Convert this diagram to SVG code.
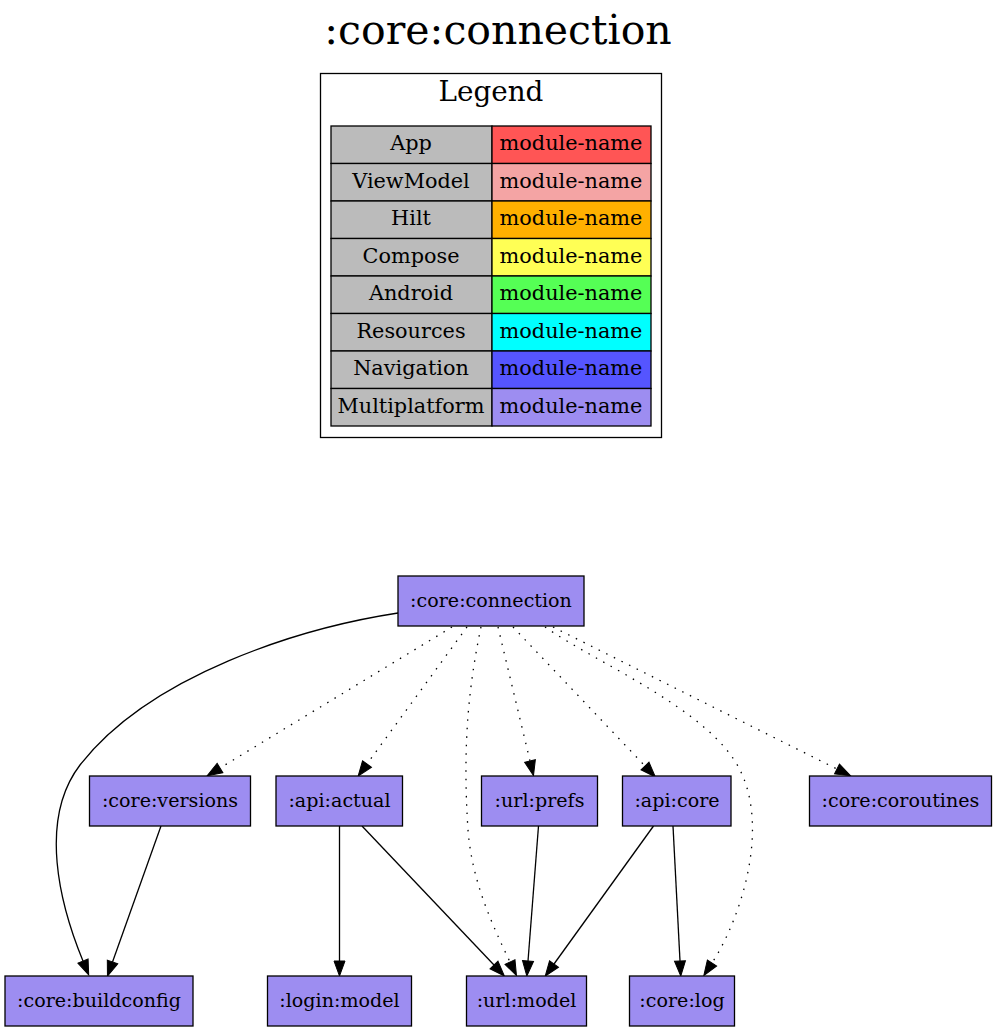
<svg xmlns="http://www.w3.org/2000/svg" width="997" height="1032" viewBox="0 0 997 1032">
<defs>
<style>
text{font-family:"DejaVu Serif","Liberation Serif",serif;fill:#000;text-anchor:middle}
.title{font-size:41px}
.leg{font-size:27.8px}
.cell{font-size:20.8px}
.node rect{fill:#9d8df1;stroke:#000;stroke-width:1.3}
.node text{font-size:19.1px}
.lbl{fill:#bbbbbb;stroke:#000;stroke-width:1.3}
.e{fill:none;stroke:#000;stroke-width:1.3}
.d{stroke-dasharray:1.5,7}
</style>
<marker id="ah" markerUnits="userSpaceOnUse" markerWidth="16" markerHeight="12" refX="0" refY="5.5" orient="auto" overflow="visible">
<path d="M0,0 L15,5.5 L0,11 z" fill="#000" stroke="#000" stroke-width="1"/>
</marker>
</defs>
<rect width="997" height="1032" fill="#fff"/>
<text class="title" x="498" y="44">:core:connection</text>
<g id="legend">
<rect x="320.5" y="73.5" width="341" height="364" fill="#fff" stroke="#000" stroke-width="1.3"/>
<text class="leg" x="491" y="101">Legend</text>
<g class="cell">
<rect class="lbl" x="331" y="126" width="161" height="37.5"/><rect x="492" y="126" width="159" height="37.5" fill="#ff5555" stroke="#000" stroke-width="1.3"/>
<text class="cell" x="411" y="150">App</text><text class="cell" x="571" y="150">module-name</text>
<rect class="lbl" x="331" y="163.5" width="161" height="37.5"/><rect x="492" y="163.5" width="159" height="37.5" fill="#f4a4a4" stroke="#000" stroke-width="1.3"/>
<text class="cell" x="411" y="187.5">ViewModel</text><text class="cell" x="571" y="187.5">module-name</text>
<rect class="lbl" x="331" y="201" width="161" height="37.5"/><rect x="492" y="201" width="159" height="37.5" fill="#ffb000" stroke="#000" stroke-width="1.3"/>
<text class="cell" x="411" y="225">Hilt</text><text class="cell" x="571" y="225">module-name</text>
<rect class="lbl" x="331" y="238.5" width="161" height="37.5"/><rect x="492" y="238.5" width="159" height="37.5" fill="#ffff55" stroke="#000" stroke-width="1.3"/>
<text class="cell" x="411" y="262.5">Compose</text><text class="cell" x="571" y="262.5">module-name</text>
<rect class="lbl" x="331" y="276" width="161" height="37.5"/><rect x="492" y="276" width="159" height="37.5" fill="#55ff55" stroke="#000" stroke-width="1.3"/>
<text class="cell" x="411" y="300">Android</text><text class="cell" x="571" y="300">module-name</text>
<rect class="lbl" x="331" y="313.5" width="161" height="37.5"/><rect x="492" y="313.5" width="159" height="37.5" fill="#00ffff" stroke="#000" stroke-width="1.3"/>
<text class="cell" x="411" y="337.5">Resources</text><text class="cell" x="571" y="337.5">module-name</text>
<rect class="lbl" x="331" y="351" width="161" height="37.5"/><rect x="492" y="351" width="159" height="37.5" fill="#5555ff" stroke="#000" stroke-width="1.3"/>
<text class="cell" x="411" y="375">Navigation</text><text class="cell" x="571" y="375">module-name</text>
<rect class="lbl" x="331" y="388.5" width="161" height="37.5"/><rect x="492" y="388.5" width="159" height="37.5" fill="#9d8df1" stroke="#000" stroke-width="1.3"/>
<text class="cell" x="411" y="412.5">Multiplatform</text><text class="cell" x="571" y="412.5">module-name</text>
</g>
</g>
<g id="edges">
<path class="e" d="M398,613 C300,628 150,675 80,765 C38,820 60,905 83,961" marker-end="url(#ah)"/>
<path class="e" d="M161,826 L112.5,962" marker-end="url(#ah)"/>
<path class="e" d="M339.5,826 L339.5,961" marker-end="url(#ah)"/>
<path class="e" d="M362,826 L494,965" marker-end="url(#ah)"/>
<path class="e" d="M538.5,826 L528,961" marker-end="url(#ah)"/>
<path class="e" d="M653.5,826 L554,964" marker-end="url(#ah)"/>
<path class="e" d="M673,826 L680,961" marker-end="url(#ah)"/>
<path class="e d" d="M452,627 L220,768" marker-end="url(#ah)"/>
<path class="e d" d="M467,627 L367,764" marker-end="url(#ah)"/>
<path class="e d" d="M481,627 C470,680 462,740 468,830 C472,880 490,920 510,962" marker-end="url(#ah)"/>
<path class="e d" d="M498,627 L530,761" marker-end="url(#ah)"/>
<path class="e d" d="M513,627 L645,766" marker-end="url(#ah)"/>
<path class="e d" d="M545,627 C600,665 710,710 740,770 C770,830 740,920 712,963" marker-end="url(#ah)"/>
<path class="e d" d="M553,627 L837,769" marker-end="url(#ah)"/>
</g>
<g id="n_core_connection" class="node"><rect x="398" y="576" width="186" height="50"/><text x="491" y="607">:core:connection</text></g>
<g id="n_core_versions" class="node"><rect x="89.5" y="776" width="161" height="50"/><text x="170" y="807">:core:versions</text></g>
<g id="n_api_actual" class="node"><rect x="276" y="776" width="126.5" height="50"/><text x="339.5" y="807">:api:actual</text></g>
<g id="n_url_prefs" class="node"><rect x="481.5" y="776" width="116" height="50"/><text x="539.5" y="807">:url:prefs</text></g>
<g id="n_api_core" class="node"><rect x="622.5" y="776" width="108.5" height="50"/><text x="677" y="807">:api:core</text></g>
<g id="n_core_coroutines" class="node"><rect x="809.5" y="776" width="182" height="50"/><text x="900.5" y="807">:core:coroutines</text></g>
<g id="n_core_buildconfig" class="node"><rect x="5" y="976" width="188" height="50"/><text x="99" y="1007">:core:buildconfig</text></g>
<g id="n_login_model" class="node"><rect x="267.5" y="976" width="144" height="50"/><text x="339.5" y="1007">:login:model</text></g>
<g id="n_url_model" class="node"><rect x="466.5" y="976" width="120" height="50"/><text x="526.5" y="1007">:url:model</text></g>
<g id="n_core_log" class="node"><rect x="629.5" y="976" width="105" height="50"/><text x="682" y="1007">:core:log</text></g>
</svg>
